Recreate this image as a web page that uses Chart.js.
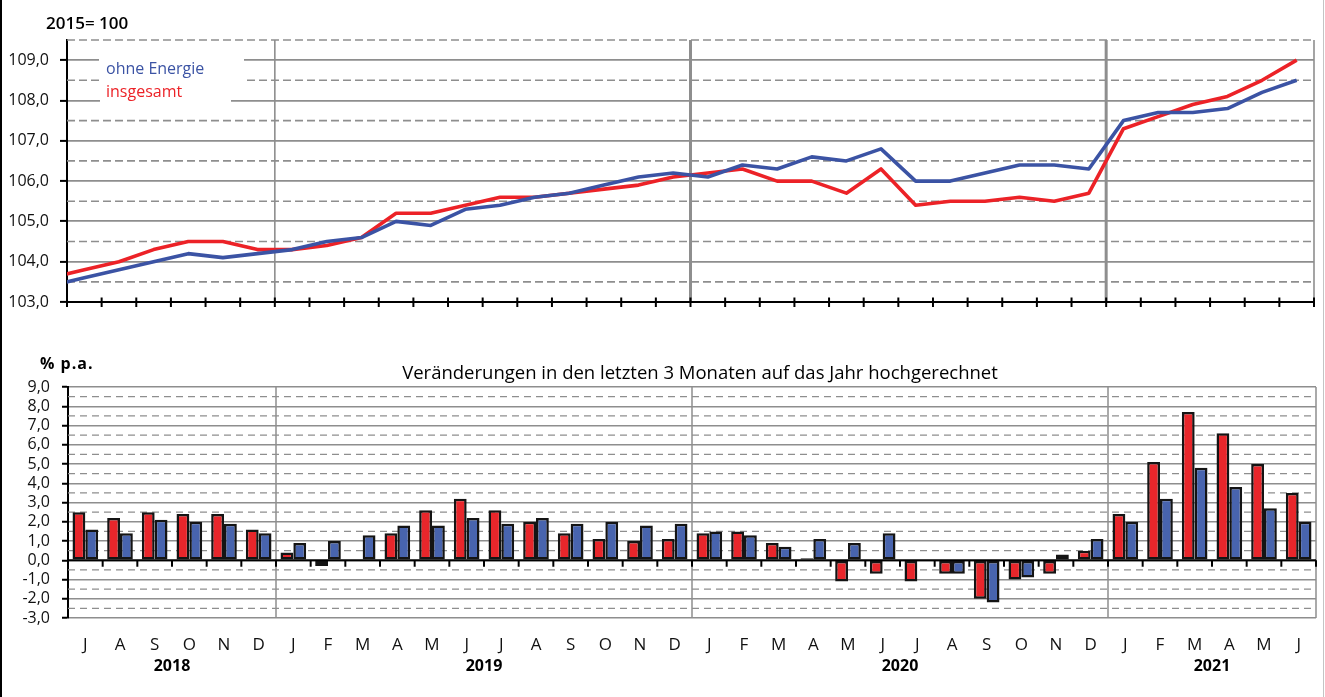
<!DOCTYPE html>
<html lang="de">
<head>
<meta charset="utf-8">
<title>Verbraucherpreise</title>
<script src="https://cdn.jsdelivr.net/npm/chart.js@4.4.1/dist/chart.umd.min.js"></script>
<style>
    html, body { margin: 0; padding: 0; background: #fff; }
    .page { position: relative; width: 1325px; height: 697px; overflow: hidden; background: #fff; }
    .frame-left { position: absolute; left: 0; top: 0; width: 2px; height: 697px; background: #000; }
    .frame-right { position: absolute; left: 1323px; top: 0; width: 1px; height: 697px; background: #c4c4c4; }
    #indexChart { position: absolute; left: 0; top: 0; }
    #changeChart { position: absolute; left: 0; top: 330px; }
</style>
</head>
<body>
<div class="page">
    <canvas id="indexChart" width="1325" height="330"></canvas>
    <canvas id="changeChart" width="1325" height="367"></canvas>
    <div class="frame-left"></div>
    <div class="frame-right"></div>
</div>
<script>
// Jul 2018 .. Jun 2021
const monthLetters = [
    "J", "A", "S", "O", "N", "D",
    "J", "F", "M", "A", "M", "J", "J", "A", "S", "O", "N", "D",
    "J", "F", "M", "A", "M", "J", "J", "A", "S", "O", "N", "D",
    "J", "F", "M", "A", "M", "J",
];
const yearLabels = ["2018", "2019", "2020", "2021"];
const yearMonthCounts = [6, 12, 12, 6];

// Index 2015 = 100, Jun 2018 .. Jun 2021 (Jun 2018 only shows as the stub at the left edge)
const indexTotal = [
    103.6,
    103.8, 104.0, 104.3, 104.5, 104.5, 104.3,
    104.3, 104.4, 104.6, 105.2, 105.2, 105.4, 105.6, 105.6, 105.7, 105.8, 105.9, 106.1,
    106.2, 106.3, 106.0, 106.0, 105.7, 106.3, 105.4, 105.5, 105.5, 105.6, 105.5, 105.7,
    107.3, 107.6, 107.9, 108.1, 108.5, 109.0,
];
const indexCore = [
    103.4,
    103.6, 103.8, 104.0, 104.2, 104.1, 104.2,
    104.3, 104.5, 104.6, 105.0, 104.9, 105.3, 105.4, 105.6, 105.7, 105.9, 106.1, 106.2,
    106.1, 106.4, 106.3, 106.6, 106.5, 106.8, 106.0, 106.0, 106.2, 106.4, 106.4, 106.3,
    107.5, 107.7, 107.7, 107.8, 108.2, 108.5,
];

// % p.a., Jul 2018 .. Jun 2021
const changeTotal = [
    2.5, 2.2, 2.5, 2.4, 2.4, 1.6,
    0.4, -0.3, 0.0, 1.4, 2.6, 3.2, 2.6, 2.0, 1.4, 1.1, 1.0, 1.1,
    1.4, 1.5, 0.9, 0.1, -1.1, -0.7, -1.1, -0.7, -2.0, -1.0, -0.7, 0.5,
    2.4, 5.1, 7.7, 6.6, 5.0, 3.5,
];
const changeCore = [
    1.6, 1.4, 2.1, 2.0, 1.9, 1.4,
    0.9, 1.0, 1.3, 1.8, 1.8, 2.2, 1.9, 2.2, 1.9, 2.0, 1.8, 1.9,
    1.5, 1.3, 0.7, 1.1, 0.9, 1.4, 0.0, -0.7, -2.2, -0.9, 0.3, 1.1,
    2.0, 3.2, 4.8, 3.8, 2.7, 2.0,
];

const INDEX_MIN = 103;
const INDEX_MAX = 109.5;
const CHANGE_MIN = -3;
const CHANGE_MAX = 9;

const RED = "#ec2227";
const BLUE = "#3b53a4";
const BAR_RED = "#e8262b";
const BAR_BLUE = "#4864ae";
const GRID = "#8e8e8e";
const FONT = '"Open Sans", "Noto Sans", sans-serif';

Chart.defaults.font.family = FONT;
Chart.defaults.color = "#111";
Chart.defaults.animation = false;

const comma = (value) => value.toFixed(1).replace(".", ",");
const isWhole = (value) => Math.abs(value - Math.round(value)) < 1e-9;

const strokeLine = (ctx, x1, y1, x2, y2) => {
    ctx.beginPath();
    ctx.moveTo(x1, y1);
    ctx.lineTo(x2, y2);
    ctx.stroke();
};

const monthBoundaries = () => {
    const result = [];
    let month = 0;
    yearMonthCounts.forEach((count) => {
        result.push({ start: month, end: month + count });
        month += count;
    });
    return result;
};

// ---------- upper chart: index lines ----------
const indexDecor = {
    id: "indexDecor",
    beforeDatasetsDraw(chart) {
        const { ctx, chartArea: area, scales: { x, y } } = chart;
        ctx.save();
        ctx.strokeStyle = GRID;
        ctx.lineWidth = 1.6;
        ctx.setLineDash([8, 4]);
        for (let v = INDEX_MIN + 0.5; v <= INDEX_MAX; v += 1) {
            const py = y.getPixelForValue(v);
            strokeLine(ctx, area.left, py, area.right, py);
        }
        ctx.setLineDash([]);
        monthBoundaries().forEach((year, i) => {
            const px = x.getPixelForValue(year.end);
            ctx.lineWidth = i === 1 || i === 2 ? 3 : 1.6;
            strokeLine(ctx, px, area.top, px, area.bottom);
        });
        ctx.restore();
    },
    afterDatasetsDraw(chart) {
        const { ctx, chartArea: area, scales: { x, y } } = chart;
        ctx.save();
        const axisY = y.getPixelForValue(INDEX_MIN);
        ctx.strokeStyle = "#000";
        ctx.lineWidth = 2;
        strokeLine(ctx, area.left, axisY, area.right, axisY);
        for (let m = 0; m <= monthLetters.length; m++) {
            const px = x.getPixelForValue(m);
            strokeLine(ctx, px, axisY - 4.5, px, axisY + 5);
        }

        // legend
        ctx.fillStyle = "#fff";
        ctx.fillRect(99, 50, 145, 40);
        ctx.fillRect(100, 84, 131, 20);
        ctx.font = `16px ${FONT}`;
        ctx.textBaseline = "alphabetic";
        ctx.textAlign = "left";
        chart.data.datasets.forEach((dataset, i) => {
            ctx.fillStyle = dataset.borderColor;
            ctx.fillText(dataset.label, 106, 74 + i * 23);
        });

        ctx.fillStyle = "#000";
        ctx.font = `600 17px ${FONT}`;
        ctx.fillText("2015= 100", 46, 29);
        ctx.restore();
    },
};

const toPoints = (values) => values.map((value, i) => ({ x: i - 0.5, y: value }));

new Chart(document.getElementById("indexChart"), {
    type: "line",
    data: {
        datasets: [
            {
                label: "ohne Energie",
                data: toPoints(indexCore),
                borderColor: BLUE,
                borderWidth: 3.6,
                pointRadius: 0,
                borderJoinStyle: "round",
                tension: 0,
            },
            {
                label: "insgesamt",
                data: toPoints(indexTotal),
                borderColor: RED,
                borderWidth: 3.6,
                pointRadius: 0,
                borderJoinStyle: "round",
                tension: 0,
            },
        ],
    },
    options: {
        responsive: false,
        layout: { padding: { top: 40, right: 11, left: 0, bottom: 0 } },
        plugins: {
            legend: { display: false },
            tooltip: { enabled: false },
        },
        scales: {
            x: {
                type: "linear",
                min: 0,
                max: monthLetters.length,
                afterFit: (scale) => {
                    scale.height = 28;
                },
                ticks: { display: false },
                grid: { display: false },
                border: { display: false },
            },
            y: {
                min: INDEX_MIN,
                max: INDEX_MAX,
                afterFit: (scale) => {
                    scale.width = 67;
                },
                ticks: {
                    stepSize: 0.5,
                    autoSkip: false,
                    padding: 11,
                    color: "#111",
                    font: { size: 16 },
                    callback: (value) => (isWhole(value) ? comma(value) : ""),
                },
                grid: {
                    color: (c) => (c.tick && isWhole(c.tick.value) ? GRID : "transparent"),
                    lineWidth: 1.8,
                    tickColor: (c) => (c.tick && isWhole(c.tick.value) ? "#000" : "transparent"),
                    tickLength: 7,
                    tickWidth: 2,
                },
                border: { color: "#000", width: 2 },
            },
        },
    },
    plugins: [indexDecor],
});

// ---------- lower chart: annualised 3-month change ----------
const changeDecor = {
    id: "changeDecor",
    beforeDatasetsDraw(chart) {
        const { ctx, chartArea: area, scales: { x, y } } = chart;
        const step = x.getPixelForValue(1) - x.getPixelForValue(0);
        ctx.save();
        ctx.strokeStyle = GRID;
        ctx.lineWidth = 1.4;
        ctx.setLineDash([7, 5]);
        for (let v = CHANGE_MIN + 0.5; v < CHANGE_MAX; v += 1) {
            const py = y.getPixelForValue(v);
            strokeLine(ctx, area.left, py, area.right, py);
        }
        ctx.setLineDash([]);
        ctx.lineWidth = 1.5;
        monthBoundaries().forEach((year) => {
            const px = x.getPixelForValue(year.end) - step / 2;
            strokeLine(ctx, px, area.top, px, area.bottom);
        });
        ctx.restore();
    },
    afterDatasetsDraw(chart) {
        const { ctx, chartArea: area, scales: { x, y } } = chart;
        const step = x.getPixelForValue(1) - x.getPixelForValue(0);
        ctx.save();
        const zeroY = y.getPixelForValue(0);
        ctx.strokeStyle = "#000";
        ctx.lineWidth = 2;
        strokeLine(ctx, area.left, zeroY, area.right, zeroY);
        for (let m = 1; m <= monthLetters.length; m++) {
            const px = x.getPixelForValue(m) - step / 2;
            strokeLine(ctx, px, zeroY, px, zeroY + 6.5);
        }
        ctx.restore();
    },
    afterDraw(chart) {
        const { ctx, scales: { x } } = chart;
        const step = x.getPixelForValue(1) - x.getPixelForValue(0);
        ctx.save();
        ctx.fillStyle = "#000";
        ctx.textBaseline = "alphabetic";

        ctx.textAlign = "left";
        ctx.font = `700 16px ${FONT}`;
        ctx.letterSpacing = "1px";
        ctx.fillText("% p.a.", 40, 39);
        ctx.letterSpacing = "0px";

        ctx.textAlign = "center";
        ctx.font = `18.5px ${FONT}`;
        ctx.fillText("Veränderungen in den letzten 3 Monaten auf das Jahr hochgerechnet", 700, 49);

        ctx.font = `700 16px ${FONT}`;
        monthBoundaries().forEach((year, i) => {
            const left = x.getPixelForValue(year.start) - step / 2;
            const right = x.getPixelForValue(year.end) - step / 2;
            ctx.fillText(yearLabels[i], (left + right) / 2, 341);
        });
        ctx.restore();
    },
};

new Chart(document.getElementById("changeChart"), {
    type: "bar",
    data: {
        labels: monthLetters,
        datasets: [
            {
                label: "insgesamt",
                data: changeTotal,
                backgroundColor: BAR_RED,
                borderColor: "#141414",
                borderWidth: 2.5,
                borderSkipped: false,
                categoryPercentage: 0.74,
                barPercentage: 1.0,
            },
            {
                label: "ohne Energie",
                data: changeCore,
                backgroundColor: BAR_BLUE,
                borderColor: "#141414",
                borderWidth: 2.5,
                borderSkipped: false,
                categoryPercentage: 0.74,
                barPercentage: 1.0,
            },
        ],
    },
    options: {
        responsive: false,
        layout: { padding: { top: 57, right: 9, left: 0, bottom: 0 } },
        plugins: {
            legend: { display: false },
            tooltip: { enabled: false },
        },
        scales: {
            x: {
                afterFit: (scale) => {
                    scale.height = 79;
                },
                grid: { display: false },
                border: { display: false },
                ticks: {
                    autoSkip: false,
                    maxRotation: 0,
                    padding: 9,
                    color: "#111",
                    font: { size: 17 },
                },
            },
            y: {
                min: CHANGE_MIN,
                max: CHANGE_MAX,
                afterFit: (scale) => {
                    scale.width = 68;
                },
                ticks: {
                    stepSize: 0.5,
                    autoSkip: false,
                    padding: 12,
                    color: "#111",
                    font: { size: 16 },
                    callback: (value) => (isWhole(value) ? comma(value) : ""),
                },
                grid: {
                    color: (c) => (c.tick && isWhole(c.tick.value) ? GRID : "transparent"),
                    lineWidth: 1.5,
                    tickColor: (c) => (c.tick && isWhole(c.tick.value) ? "#000" : "transparent"),
                    tickLength: 6,
                    tickWidth: 2,
                },
                border: { color: "#000", width: 2 },
            },
        },
    },
    plugins: [changeDecor],
});
</script>
</body>
</html>
